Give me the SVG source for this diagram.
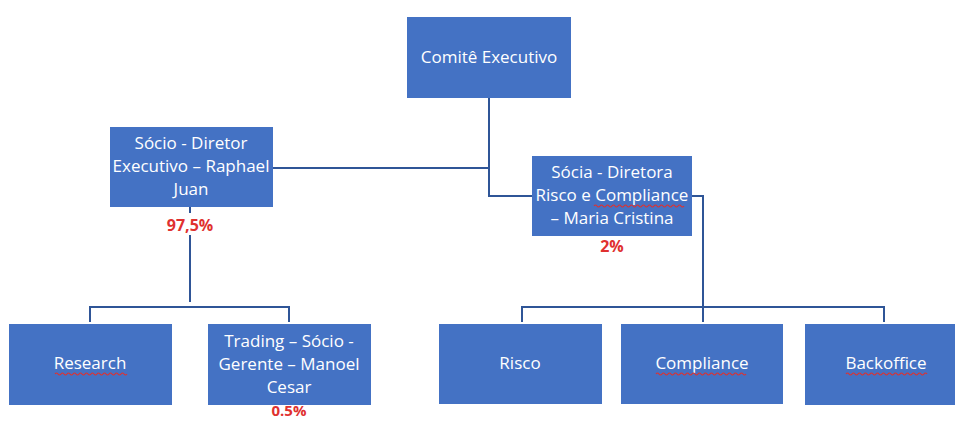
<svg xmlns="http://www.w3.org/2000/svg" width="955" height="422" viewBox="0 0 955 422">
<style>
.box{fill:#4472C4;}
.t{font-family:"Open Sans","Liberation Sans",sans-serif;font-size:17px;fill:#FFFFFF;text-anchor:middle;}
.pct{font-family:"Open Sans","Liberation Sans",sans-serif;font-size:16px;font-weight:bold;fill:#E0312F;text-anchor:middle;}
.c{fill:none;stroke:#2F5597;stroke-width:2;}
.sq{fill:none;stroke:#E0312F;stroke-width:1.2;}
</style>
<rect width="955" height="422" fill="#FFFFFF"/>
<g id="connectors">
<path class="c" d="M489 98 V196 H532"/>
<path class="c" d="M273 168 H489"/>
<path class="c" d="M190 207 V302"/>
<path class="c" d="M90 322 V307 H289 V322"/>
<path class="c" d="M692 196 H703 V322"/>
<path class="c" d="M522 322 V307 H884 V322"/>
</g>
<g id="comite">
<rect class="box" x="407" y="17" width="164" height="81"/>
<text class="t" x="489" y="63">Comitê Executivo</text>
</g>
<g id="raphael">
<rect class="box" x="110" y="127" width="163" height="80"/>
<text class="t" x="191" y="149">Sócio - Diretor</text>
<text class="t" x="191" y="172">Executivo – Raphael</text>
<text class="t" x="191" y="195">Juan</text>
<rect x="160" y="213" width="60" height="22" fill="#FFFFFF"/>
<text class="pct" x="190" y="231">97,5%</text>
</g>
<g id="maria">
<rect class="box" x="532" y="156" width="160" height="80"/>
<text class="t" x="612" y="178">Sócia - Diretora</text>
<text class="t" x="612" y="201">Risco e Compliance</text>
<path class="sq" d="M594 206 q1.5 -2 3 0 t3 0 t3 0 t3 0 t3 0 t3 0 t3 0 t3 0 t3 0 t3 0 t3 0 t3 0 t3 0 t3 0 t3 0 t3 0 t3 0 t3 0 t3 0 t3 0 t3 0 t3 0 t3 0 t3 0 t3 0 t3 0 t3 0 t3 0 t3 0 t3 0"/>
<text class="t" x="612" y="224">– Maria Cristina</text>
<text class="pct" x="612" y="252">2%</text>
</g>
<g id="research">
<rect class="box" x="9" y="324" width="163" height="81"/>
<text class="t" x="90" y="369">Research</text>
<path class="sq" d="M55 374 q1.5 -2 3 0 t3 0 t3 0 t3 0 t3 0 t3 0 t3 0 t3 0 t3 0 t3 0 t3 0 t3 0 t3 0 t3 0 t3 0 t3 0 t3 0 t3 0 t3 0 t3 0 t3 0 t3 0 t3 0 t3 0"/>
</g>
<g id="trading">
<rect class="box" x="208" y="324" width="163" height="81"/>
<text class="t" x="289" y="347">Trading – Sócio -</text>
<text class="t" x="289" y="370">Gerente – Manoel</text>
<text class="t" x="289" y="393">Cesar</text>
<text class="pct" x="289" y="416" style="font-size:15px">0.5%</text>
</g>
<g id="risco">
<rect class="box" x="439" y="324" width="163" height="80"/>
<text class="t" x="520" y="369">Risco</text>
</g>
<g id="compliance">
<rect class="box" x="621" y="324" width="162" height="80"/>
<text class="t" x="702" y="369">Compliance</text>
<path class="sq" d="M656 374 q1.5 -2 3 0 t3 0 t3 0 t3 0 t3 0 t3 0 t3 0 t3 0 t3 0 t3 0 t3 0 t3 0 t3 0 t3 0 t3 0 t3 0 t3 0 t3 0 t3 0 t3 0 t3 0 t3 0 t3 0 t3 0 t3 0 t3 0 t3 0 t3 0 t3 0 t3 0"/>
</g>
<g id="backoffice">
<rect class="box" x="805" y="324" width="150" height="81"/>
<text class="t" x="886" y="369">Backoffice</text>
<path class="sq" d="M846 374 q1.5 -2 3 0 t3 0 t3 0 t3 0 t3 0 t3 0 t3 0 t3 0 t3 0 t3 0 t3 0 t3 0 t3 0 t3 0 t3 0 t3 0 t3 0 t3 0 t3 0 t3 0 t3 0 t3 0 t3 0 t3 0 t3 0 t3 0 t3 0"/>
</g>
</svg>
